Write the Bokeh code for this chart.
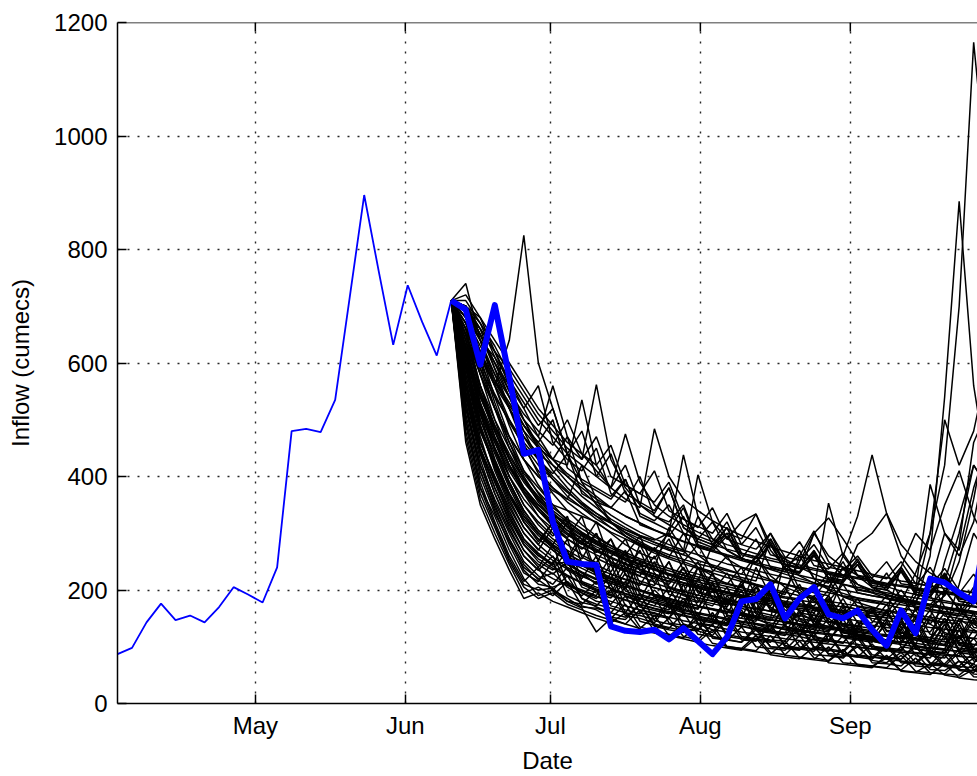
import datetime as dt

from bokeh.plotting import figure
from bokeh.models import Range1d, FixedTicker, DatetimeTickFormatter, Span
from bokeh.embed import file_html
from bokeh.resources import INLINE


def ms(d):
    """Milliseconds since the epoch, as Bokeh's datetime axes expect."""
    return (d - dt.datetime(1970, 1, 1)).total_seconds() * 1000.0


# ---------------------------------------------------------------------------
# Data: reservoir inflow (cumecs) sampled every 3 days
# ---------------------------------------------------------------------------
TIME_STEP = dt.timedelta(days=3)
RECORD_START = dt.datetime(2009, 4, 2, 12)
VIEW_END = dt.datetime(2009, 9, 27, 7)

month_ticks = [dt.datetime(2009, m, 1) for m in (5, 6, 7, 8, 9)]
month_labels = ["May", "Jun", "Jul", "Aug", "Sep"]
inflow_ticks = [0, 200, 400, 600, 800, 1000, 1200]

# recorded inflow up to the forecast date
hist_inflow = [87, 98, 143, 176, 147, 155, 143, 170, 205, 192, 178, 240,
               480, 484, 478, 535, 715, 896, 762, 632, 737, 672, 613, 710]

# inflow observed after the forecast date
obs_inflow = [710, 694, 597, 702, 575, 440, 447, 320, 250, 246,
              244, 136, 128, 126, 130, 113, 133, 110, 87, 117,
              180, 184, 210, 150, 185, 205, 157, 150, 164, 130,
              102, 164, 124, 220, 213, 195, 180, 330]

# ensemble of forecast traces issued on the forecast date
ensemble_inflow = [
    [710, 470, 360, 300, 245, 195, 205, 190, 215, 172, 165, 150, 175, 135, 128, 150, 118, 112, 140, 100, 97, 120, 90, 86, 110, 80, 76, 95, 68, 66, 80, 58, 55, 70, 50, 46, 60, 42],
    [710, 500, 390, 320, 260, 215, 240, 198, 180, 175, 200, 152, 148, 175, 136, 130, 125, 160, 115, 112, 108, 135, 100, 98, 95, 125, 86, 82, 100, 76, 72, 90, 66, 64, 85, 58, 55, 75],
    [710, 520, 410, 340, 280, 230, 215, 250, 190, 178, 172, 200, 155, 150, 142, 175, 130, 128, 120, 150, 112, 110, 140, 100, 96, 92, 120, 86, 82, 78, 100, 72, 70, 90, 65, 62, 80, 58],
    [710, 490, 380, 330, 270, 220, 190, 200, 225, 185, 170, 160, 190, 145, 138, 132, 160, 122, 118, 110, 135, 100, 97, 94, 120, 86, 84, 80, 105, 72, 70, 66, 90, 60, 58, 75, 52, 50],
    [710, 540, 430, 355, 300, 250, 225, 210, 240, 185, 175, 168, 160, 195, 146, 140, 132, 128, 160, 118, 114, 110, 140, 102, 98, 95, 125, 88, 84, 80, 105, 74, 70, 68, 95, 60, 58, 80],
    [710, 510, 400, 335, 285, 240, 220, 230, 205, 190, 215, 172, 165, 158, 190, 142, 138, 130, 160, 122, 116, 112, 108, 140, 100, 96, 92, 120, 86, 82, 78, 100, 72, 68, 66, 90, 60, 58],
    [710, 530, 420, 350, 290, 235, 210, 205, 215, 195, 185, 210, 160, 155, 148, 180, 140, 132, 125, 155, 118, 114, 110, 105, 135, 98, 94, 90, 115, 82, 80, 78, 100, 70, 68, 66, 90, 62],
    [710, 560, 440, 370, 310, 260, 235, 260, 210, 195, 180, 175, 205, 160, 155, 150, 180, 140, 130, 126, 160, 118, 112, 110, 140, 100, 96, 92, 120, 86, 82, 78, 105, 72, 70, 95, 65, 62],
    [710, 550, 450, 380, 320, 270, 240, 280, 210, 200, 190, 230, 172, 165, 160, 150, 200, 142, 138, 190, 160, 140, 130, 175, 118, 112, 108, 150, 100, 96, 92, 130, 84, 80, 120, 74, 70, 110],
    [710, 580, 470, 390, 330, 280, 250, 235, 270, 210, 198, 190, 230, 172, 200, 175, 160, 210, 146, 140, 135, 180, 126, 122, 118, 160, 110, 106, 145, 98, 95, 92, 130, 84, 80, 120, 75, 72],
    [710, 600, 490, 410, 350, 300, 270, 310, 235, 220, 260, 200, 190, 182, 230, 168, 160, 155, 200, 145, 140, 135, 130, 180, 150, 135, 128, 170, 118, 112, 108, 150, 100, 96, 140, 90, 86, 130],
    [710, 570, 460, 400, 340, 290, 265, 245, 290, 215, 205, 195, 240, 180, 172, 165, 210, 152, 148, 142, 190, 132, 128, 124, 165, 116, 112, 140, 120, 110, 104, 145, 96, 92, 88, 130, 82, 80],
    [710, 620, 510, 430, 370, 320, 290, 270, 250, 290, 222, 212, 202, 250, 188, 180, 172, 166, 215, 155, 150, 145, 190, 135, 130, 126, 175, 118, 114, 110, 106, 140, 120, 110, 104, 150, 96, 92],
    [710, 590, 480, 420, 360, 310, 280, 320, 245, 230, 218, 260, 198, 190, 182, 175, 168, 220, 185, 165, 155, 148, 195, 136, 130, 125, 170, 116, 112, 108, 145, 100, 96, 92, 90, 130, 84, 80],
    [710, 640, 530, 450, 390, 340, 305, 280, 320, 246, 232, 220, 265, 200, 192, 185, 230, 170, 165, 158, 200, 148, 142, 138, 160, 145, 135, 175, 122, 118, 112, 108, 150, 100, 96, 140, 90, 88],
    [710, 610, 500, 440, 380, 330, 300, 275, 255, 300, 228, 215, 205, 250, 190, 182, 175, 168, 210, 156, 150, 205, 170, 155, 145, 138, 180, 126, 120, 116, 110, 150, 102, 98, 95, 150, 130, 115],
    [710, 650, 550, 470, 400, 350, 315, 290, 270, 255, 300, 228, 218, 208, 250, 192, 185, 178, 230, 166, 160, 154, 200, 142, 138, 132, 175, 124, 120, 116, 112, 108, 170, 140, 125, 115, 160, 104],
    [710, 630, 520, 460, 400, 350, 320, 295, 330, 258, 244, 232, 270, 212, 204, 196, 240, 182, 176, 170, 210, 158, 152, 148, 190, 138, 134, 130, 170, 122, 118, 114, 155, 106, 102, 140, 95, 92],
    [710, 660, 560, 480, 420, 370, 330, 300, 280, 262, 248, 290, 226, 216, 208, 250, 192, 186, 180, 174, 215, 162, 156, 150, 190, 140, 136, 132, 128, 165, 120, 116, 112, 108, 200, 165, 140, 125],
    [710, 670, 580, 500, 430, 380, 345, 315, 292, 330, 256, 244, 232, 270, 212, 204, 196, 240, 184, 178, 172, 240, 190, 165, 155, 148, 190, 136, 130, 126, 165, 118, 114, 110, 150, 102, 98, 95],
    [710, 600, 500, 430, 370, 320, 285, 320, 245, 232, 220, 210, 250, 192, 185, 178, 171, 240, 200, 180, 168, 160, 200, 146, 140, 135, 170, 126, 122, 118, 150, 110, 106, 102, 140, 95, 92, 90],
    [710, 680, 600, 520, 450, 395, 355, 325, 300, 280, 320, 248, 236, 225, 260, 206, 198, 190, 230, 178, 172, 166, 205, 155, 150, 145, 185, 136, 132, 128, 165, 120, 116, 112, 150, 104, 100, 135],
    [710, 560, 450, 390, 330, 285, 260, 245, 250, 230, 210, 245, 188, 180, 172, 205, 160, 154, 148, 185, 136, 130, 126, 160, 118, 170, 140, 126, 118, 110, 104, 135, 96, 92, 88, 120, 82, 80],
    [710, 620, 520, 450, 390, 340, 305, 285, 265, 248, 234, 222, 212, 280, 230, 205, 190, 180, 172, 205, 158, 152, 146, 180, 135, 130, 126, 160, 118, 114, 110, 106, 140, 98, 95, 92, 130, 110],
    [710, 690, 620, 540, 470, 410, 370, 335, 310, 290, 272, 258, 290, 234, 224, 214, 250, 198, 190, 184, 178, 210, 166, 160, 155, 190, 145, 141, 137, 170, 129, 125, 121, 155, 114, 110, 145, 104],
    [710, 700, 640, 560, 490, 430, 385, 350, 322, 300, 282, 266, 252, 240, 275, 220, 212, 204, 196, 230, 184, 178, 172, 205, 160, 155, 150, 185, 142, 138, 134, 130, 165, 122, 118, 114, 150, 106],
    [710, 650, 560, 490, 430, 375, 340, 312, 290, 272, 300, 245, 234, 224, 214, 250, 198, 191, 185, 179, 210, 168, 162, 157, 190, 148, 143, 139, 135, 165, 127, 124, 120, 116, 112, 160, 190, 150],
    [710, 700, 660, 590, 520, 455, 405, 370, 340, 315, 295, 278, 262, 295, 238, 228, 218, 250, 202, 195, 188, 182, 215, 170, 165, 160, 190, 150, 146, 142, 175, 134, 130, 126, 160, 118, 115, 112],
    [710, 690, 610, 530, 460, 400, 360, 330, 305, 284, 266, 290, 240, 230, 220, 210, 240, 195, 188, 182, 176, 205, 164, 158, 153, 185, 144, 140, 136, 132, 160, 124, 120, 116, 145, 108, 104, 100],
    [710, 540, 440, 370, 315, 270, 245, 228, 250, 205, 195, 186, 215, 170, 164, 158, 185, 147, 142, 137, 165, 128, 124, 120, 150, 113, 110, 107, 135, 101, 98, 95, 125, 90, 87, 84, 115, 80],
    [710, 620, 540, 480, 420, 380, 350, 330, 320, 300, 285, 270, 260, 250, 240, 310, 270, 240, 225, 210, 240, 190, 182, 176, 210, 165, 160, 155, 185, 145, 140, 135, 130, 165, 122, 118, 114, 150],
    [710, 660, 590, 520, 460, 410, 380, 350, 340, 330, 320, 300, 280, 265, 255, 290, 235, 228, 220, 212, 205, 260, 225, 205, 195, 188, 220, 172, 166, 160, 190, 150, 145, 140, 170, 132, 128, 124],
    [710, 700, 650, 600, 540, 480, 430, 400, 375, 350, 330, 310, 295, 282, 270, 300, 250, 240, 232, 260, 218, 210, 204, 240, 192, 186, 180, 210, 170, 165, 160, 190, 150, 146, 142, 175, 134, 130],
    [710, 690, 640, 580, 520, 470, 430, 395, 365, 345, 325, 310, 295, 280, 270, 258, 300, 262, 242, 228, 218, 208, 200, 192, 260, 220, 200, 188, 178, 170, 163, 157, 152, 147, 143, 140, 180, 160],
    [710, 710, 670, 610, 550, 500, 455, 420, 390, 365, 345, 325, 310, 296, 284, 272, 262, 252, 244, 236, 228, 260, 215, 210, 204, 198, 230, 188, 183, 178, 174, 200, 166, 162, 158, 154, 185, 146],
    [710, 680, 620, 560, 500, 450, 410, 380, 355, 335, 318, 302, 290, 278, 268, 258, 250, 280, 235, 228, 222, 216, 290, 245, 225, 212, 202, 194, 186, 180, 174, 168, 163, 190, 154, 150, 146, 142],
    [710, 700, 660, 620, 570, 520, 470, 430, 400, 375, 352, 332, 316, 302, 290, 280, 270, 262, 254, 246, 240, 234, 228, 222, 216, 210, 205, 240, 195, 190, 186, 182, 178, 174, 200, 166, 162, 158],
    [710, 650, 580, 520, 470, 430, 400, 375, 360, 420, 360, 320, 295, 278, 265, 255, 246, 238, 230, 222, 215, 208, 202, 196, 190, 185, 180, 176, 172, 168, 164, 160, 156, 152, 148, 145, 142, 139],
    [710, 720, 680, 620, 560, 500, 450, 410, 380, 355, 335, 318, 302, 290, 280, 270, 262, 330, 280, 255, 240, 228, 218, 210, 202, 195, 190, 240, 210, 195, 185, 178, 172, 166, 160, 155, 150, 146],
    [710, 700, 650, 590, 540, 490, 450, 430, 405, 385, 365, 345, 330, 318, 306, 296, 286, 278, 270, 262, 255, 248, 242, 236, 230, 300, 260, 240, 226, 215, 206, 198, 192, 186, 181, 176, 172, 168],
    [710, 690, 620, 560, 640, 825, 600, 520, 440, 390, 350, 320, 300, 285, 272, 262, 254, 246, 240, 234, 228, 222, 216, 210, 205, 200, 195, 190, 186, 182, 178, 174, 170, 166, 162, 158, 154, 150],
    [710, 740, 640, 570, 520, 470, 440, 420, 400, 380, 360, 345, 330, 318, 306, 295, 285, 276, 268, 260, 252, 245, 238, 232, 226, 220, 215, 210, 205, 200, 195, 190, 186, 182, 178, 174, 170, 166],
    [710, 680, 630, 580, 540, 500, 470, 560, 470, 430, 562, 430, 380, 350, 330, 315, 300, 290, 280, 272, 265, 258, 252, 246, 240, 235, 230, 225, 220, 215, 210, 206, 202, 198, 194, 190, 186, 182],
    [710, 670, 610, 560, 520, 480, 450, 430, 420, 535, 420, 380, 475, 390, 350, 330, 315, 302, 290, 280, 272, 264, 256, 250, 244, 238, 232, 227, 222, 217, 212, 208, 204, 200, 196, 192, 188, 184],
    [710, 700, 650, 600, 550, 510, 480, 455, 500, 440, 410, 380, 360, 345, 484, 400, 360, 340, 322, 308, 296, 286, 276, 268, 260, 252, 246, 240, 234, 228, 222, 216, 212, 207, 203, 199, 195, 191],
    [710, 650, 580, 520, 470, 430, 400, 380, 360, 345, 330, 318, 306, 296, 288, 300, 438, 330, 290, 270, 256, 245, 236, 228, 220, 213, 206, 200, 195, 190, 185, 180, 176, 172, 168, 164, 160, 156],
    [710, 660, 600, 545, 495, 455, 420, 395, 372, 352, 335, 320, 306, 294, 284, 275, 268, 403, 320, 290, 320, 334, 280, 255, 240, 228, 218, 210, 202, 196, 190, 185, 180, 175, 170, 166, 162, 158],
    [710, 640, 560, 500, 450, 405, 372, 345, 325, 308, 292, 278, 266, 255, 246, 238, 230, 223, 216, 210, 204, 198, 193, 188, 184, 200, 353, 260, 225, 205, 192, 182, 174, 260, 540, 885, 560, 400],
    [710, 630, 545, 485, 435, 395, 362, 336, 315, 297, 282, 268, 256, 245, 235, 226, 218, 210, 203, 197, 191, 186, 181, 176, 172, 168, 164, 160, 157, 154, 151, 148, 190, 300, 420, 700, 1165, 900],
    [710, 615, 525, 465, 415, 375, 345, 320, 300, 284, 270, 258, 247, 237, 228, 220, 213, 206, 200, 194, 189, 184, 179, 175, 171, 167, 163, 160, 157, 154, 151, 180, 230, 300, 500, 420, 480, 600],
    [710, 620, 530, 470, 420, 380, 350, 325, 305, 290, 276, 264, 254, 244, 236, 228, 221, 214, 208, 202, 196, 190, 185, 180, 176, 172, 200, 260, 330, 438, 335, 280, 250, 230, 215, 300, 420, 380],
    [710, 600, 510, 450, 400, 360, 330, 308, 290, 275, 262, 250, 240, 231, 223, 216, 209, 203, 197, 191, 186, 181, 176, 172, 168, 164, 160, 220, 280, 300, 335, 260, 225, 205, 190, 250, 360, 500],
    [710, 580, 480, 420, 370, 330, 300, 280, 264, 250, 238, 228, 219, 211, 204, 198, 192, 186, 181, 176, 171, 167, 163, 200, 250, 300, 327, 290, 250, 220, 200, 186, 176, 168, 190, 280, 460, 520],
    [710, 630, 540, 480, 430, 390, 358, 333, 312, 295, 280, 268, 256, 246, 237, 229, 222, 215, 280, 300, 290, 334, 270, 240, 260, 304, 250, 225, 210, 200, 192, 185, 178, 172, 167, 162, 158, 154],
    [710, 600, 490, 420, 365, 320, 290, 270, 252, 238, 226, 215, 206, 198, 190, 184, 178, 172, 167, 162, 158, 154, 150, 257, 200, 180, 170, 162, 155, 150, 146, 142, 138, 134, 131, 128, 125, 122],
    [710, 610, 520, 460, 410, 370, 340, 316, 297, 281, 268, 256, 245, 236, 228, 220, 213, 207, 201, 196, 191, 186, 182, 178, 174, 170, 167, 164, 161, 158, 155, 152, 200, 386, 300, 260, 320, 450],
    [710, 560, 460, 400, 345, 300, 272, 252, 237, 224, 213, 203, 194, 186, 179, 172, 166, 160, 155, 150, 145, 141, 137, 133, 129, 126, 123, 120, 117, 114, 111, 108, 105, 150, 250, 330, 420, 380],
    [710, 590, 490, 425, 370, 325, 296, 274, 257, 243, 230, 219, 209, 200, 192, 185, 178, 172, 166, 161, 156, 151, 147, 143, 139, 135, 131, 128, 125, 122, 119, 116, 140, 210, 300, 270, 380, 460],
    [710, 520, 420, 360, 305, 260, 235, 220, 208, 198, 188, 180, 172, 165, 158, 152, 146, 141, 136, 131, 126, 122, 118, 114, 111, 108, 105, 102, 99, 96, 93, 90, 88, 86, 130, 210, 300, 260],
    [710, 640, 550, 490, 440, 395, 365, 340, 320, 302, 287, 274, 262, 252, 242, 234, 226, 219, 212, 206, 200, 195, 190, 186, 182, 178, 174, 170, 166, 162, 158, 240, 300, 270, 350, 410, 330, 280],
    [710, 460, 350, 290, 235, 185, 195, 180, 170, 160, 150, 142, 160, 130, 124, 118, 140, 107, 102, 98, 94, 115, 86, 82, 79, 100, 72, 69, 66, 63, 85, 57, 54, 51, 70, 45, 42, 40],
    [710, 480, 370, 310, 250, 205, 185, 195, 175, 165, 155, 147, 140, 165, 128, 122, 116, 140, 106, 101, 97, 93, 120, 85, 82, 78, 100, 72, 69, 66, 63, 85, 57, 54, 52, 75, 47, 45],
    [710, 500, 380, 315, 255, 210, 200, 203, 180, 168, 126, 150, 140, 132, 155, 120, 114, 108, 130, 99, 95, 91, 87, 110, 80, 77, 74, 95, 68, 65, 62, 59, 80, 54, 52, 50, 70, 46],
    [710, 530, 410, 345, 290, 245, 218, 200, 185, 170, 168, 160, 152, 175, 140, 134, 128, 150, 118, 113, 108, 130, 100, 97, 94, 115, 88, 85, 82, 105, 78, 75, 72, 95, 68, 65, 63, 85],
    [710, 570, 460, 395, 335, 290, 262, 242, 226, 213, 202, 192, 183, 175, 168, 162, 156, 150, 145, 140, 136, 132, 128, 125, 122, 119, 150, 130, 120, 114, 108, 104, 100, 97, 94, 92, 90, 88],
    [710, 545, 445, 380, 325, 280, 255, 238, 224, 212, 200, 190, 182, 174, 167, 160, 154, 149, 144, 139, 180, 150, 138, 130, 124, 118, 113, 108, 104, 100, 96, 93, 90, 87, 85, 83, 81, 79],
    [710, 595, 485, 415, 355, 310, 280, 258, 240, 226, 213, 202, 193, 185, 177, 170, 164, 158, 153, 148, 143, 139, 135, 131, 127, 124, 121, 118, 115, 112, 140, 120, 112, 106, 102, 98, 95, 92],
    [710, 625, 515, 445, 385, 335, 300, 278, 260, 244, 230, 219, 209, 200, 192, 185, 178, 172, 166, 161, 156, 152, 148, 144, 140, 136, 133, 130, 127, 124, 121, 118, 115, 112, 109, 106, 104, 102],
    [710, 700, 670, 630, 580, 540, 500, 470, 440, 480, 400, 380, 420, 350, 335, 380, 310, 290, 320, 270, 255, 290, 240, 232, 270, 220, 212, 250, 200, 195, 230, 185, 180, 215, 170, 165, 205, 160],
    [710, 690, 650, 600, 560, 520, 560, 460, 430, 410, 450, 370, 355, 400, 330, 320, 350, 285, 275, 310, 255, 248, 285, 236, 230, 265, 218, 213, 245, 204, 200, 235, 192, 188, 225, 180, 176, 215],
    [710, 680, 640, 610, 570, 530, 490, 520, 440, 420, 400, 440, 370, 355, 340, 380, 310, 295, 285, 320, 265, 258, 300, 245, 238, 270, 228, 222, 255, 212, 208, 240, 200, 196, 230, 186, 182, 220],
    [710, 670, 620, 570, 530, 490, 460, 430, 470, 390, 375, 360, 395, 330, 318, 305, 345, 280, 272, 300, 255, 248, 280, 236, 230, 262, 220, 215, 245, 205, 200, 232, 192, 188, 222, 180, 176, 210],
    [710, 690, 660, 620, 590, 550, 510, 480, 450, 430, 470, 400, 385, 370, 410, 340, 325, 310, 345, 290, 280, 310, 262, 255, 285, 243, 237, 265, 226, 221, 250, 211, 207, 240, 198, 194, 228, 186],
    [710, 650, 590, 540, 500, 460, 430, 405, 440, 370, 355, 345, 375, 315, 305, 295, 330, 275, 268, 295, 255, 250, 280, 238, 232, 260, 222, 217, 245, 208, 204, 235, 196, 192, 225, 184, 180, 215],
    [710, 700, 680, 640, 600, 560, 520, 490, 460, 440, 420, 455, 385, 370, 355, 390, 325, 312, 300, 335, 280, 272, 300, 258, 252, 280, 240, 235, 260, 225, 220, 250, 211, 207, 238, 199, 195, 228],
    [710, 660, 610, 565, 525, 490, 460, 500, 415, 395, 380, 365, 395, 335, 322, 350, 300, 290, 280, 310, 262, 255, 290, 244, 238, 268, 228, 222, 250, 212, 208, 240, 200, 196, 228, 188, 184, 218],
]

# time coordinates of each series
hist_x = [ms(RECORD_START + i * TIME_STEP) for i in range(len(hist_inflow))]
forecast_origin = RECORD_START + (len(hist_inflow) - 1) * TIME_STEP
fc_x = [ms(forecast_origin + i * TIME_STEP) for i in range(len(obs_inflow))]
month_x = [ms(d) for d in month_ticks]

# ---------------------------------------------------------------------------
# Figure
# ---------------------------------------------------------------------------
FONT = "Liberation Sans"
Y_TOP = inflow_ticks[-1]

p = figure(
    width=977, height=776,
    x_axis_type="datetime",
    x_range=Range1d(ms(RECORD_START), ms(VIEW_END)),
    y_range=Range1d(inflow_ticks[0], Y_TOP),
    output_backend="svg", toolbar_location=None,
    min_border_left=117, min_border_right=0,
    min_border_top=22, min_border_bottom=67,
    background_fill_color="white", border_fill_color="white",
    outline_line_color=None,
)

month_ticker = FixedTicker(ticks=month_x)
inflow_ticker = FixedTicker(ticks=inflow_ticks)

xaxis = p.xaxis[0]
yaxis = p.yaxis[0]
xaxis.ticker = month_ticker
xaxis.formatter = DatetimeTickFormatter(
    microseconds="%b", milliseconds="%b", seconds="%b", minsec="%b",
    minutes="%b", hourmin="%b", hours="%b", days="%b", months="%b", years="%b")
xaxis.major_label_overrides = {int(x): lab for x, lab in zip(month_x, month_labels)}
yaxis.ticker = inflow_ticker

for ax in (xaxis, yaxis):
    ax.axis_line_color = "black"
    ax.axis_line_width = 1.5
    ax.major_tick_line_color = "black"
    ax.major_tick_line_width = 1.5
    ax.major_tick_in = 9
    ax.major_tick_out = 0
    ax.minor_tick_line_color = None
    ax.major_label_text_font = FONT
    ax.major_label_text_font_size = "24px"
    ax.major_label_text_color = "black"
    ax.axis_label_text_font = FONT
    ax.axis_label_text_font_size = "24px"
    ax.axis_label_text_font_style = "normal"
    ax.axis_label_text_color = "black"

xaxis.axis_label = "Date"
xaxis.major_label_standoff = 8
xaxis.axis_label_standoff = 5
yaxis.axis_label = "Inflow (cumecs)"
yaxis.major_label_standoff = 10
yaxis.axis_label_standoff = 17

for g in (p.xgrid[0], p.ygrid[0]):
    g.grid_line_color = "black"
    g.grid_line_alpha = 0.85
    g.grid_line_width = 1.4
    g.grid_line_dash = "2 8"
p.xgrid[0].ticker = month_ticker
p.ygrid[0].ticker = inflow_ticker

# closing line along the top of the plot area, with inward month ticks
p.add_layout(Span(location=Y_TOP, dimension="width", line_color="black", line_width=1.5))
p.ray(x=month_x, y=[Y_TOP] * len(month_x), length=9, length_units="screen",
      angle=-90, angle_units="deg", line_color="black", line_width=1.5)

# ensemble traces
p.multi_line(xs=[fc_x] * len(ensemble_inflow), ys=ensemble_inflow,
             line_color="black", line_width=1.5)

# recorded inflow before the forecast date
p.line(hist_x, hist_inflow, line_color="#0000ff", line_width=1.8)

# observed inflow after the forecast date
p.line(fc_x, obs_inflow, line_color="#0000ff", line_width=6, line_join="round")

open("out.html", "w").write(file_html(p, INLINE))
